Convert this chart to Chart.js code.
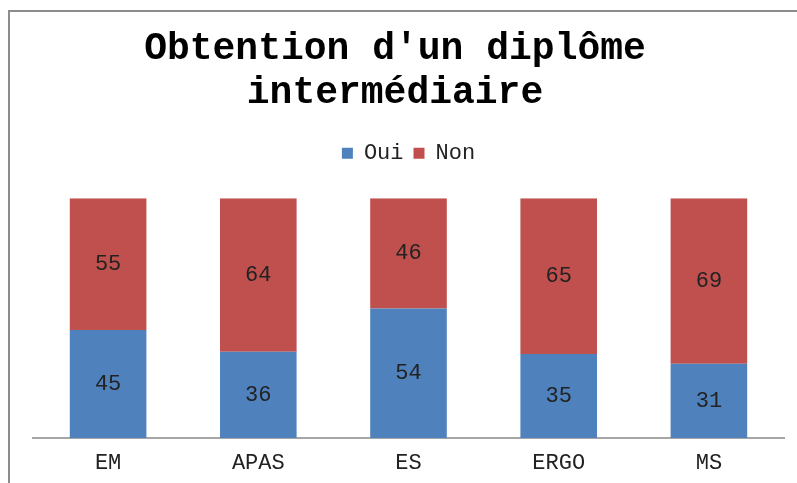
<!DOCTYPE html>
<html lang="fr">
<head>
  <meta charset="UTF-8">
  <title>Obtention d'un diplôme intermédiaire</title>
  <script src="https://cdn.jsdelivr.net/npm/chart.js"></script>
  <style>
    html, body { margin: 0; padding: 0; background: #fff; overflow: hidden; }
    #wrap { position: relative; width: 797px; height: 483px; }
    #frame {
      position: absolute; left: 8px; top: 10px; width: 1000px; height: 1000px;
      border-top: 2px solid #8c8c8c; border-left: 2px solid #8c8c8c;
      pointer-events: none;
    }
  </style>
</head>
<body>
  <div id="wrap">
    <canvas id="chart" width="797" height="483"></canvas>
    <div id="frame"></div>
  </div>
  <script>
    const categories = ['EM', 'APAS', 'ES', 'ERGO', 'MS']
    const oui = [45, 36, 54, 35, 31]
    const non = [55, 64, 46, 65, 69]
    const mono = "'Liberation Mono', 'Courier New', monospace"

    // draws the value in the middle of each stacked segment
    const valueLabels = {
      id: 'valueLabels',
      afterDatasetsDraw(chart) {
        const ctx = chart.ctx
        ctx.save()
        ctx.font = '22px ' + mono
        ctx.fillStyle = '#222'
        ctx.textAlign = 'center'
        ctx.textBaseline = 'middle'
        chart.data.datasets.forEach((ds, i) => {
          chart.getDatasetMeta(i).data.forEach((bar, j) => {
            ctx.fillText(ds.data[j], bar.x, (bar.y + bar.base) / 2)
          })
        })
        ctx.restore()
      }
    }

    // extra room between legend and bars
    const legendGap = {
      id: 'legendGap',
      beforeInit(chart) {
        const fit = chart.legend.fit
        chart.legend.fit = function () {
          fit.call(this)
          this.height += 24
        }
      }
    }

    new Chart(document.getElementById('chart'), {
      type: 'bar',
      data: {
        labels: categories,
        datasets: [
          { label: 'Oui', data: oui, backgroundColor: '#4f81bd' },
          { label: 'Non', data: non, backgroundColor: '#c0504d' }
        ]
      },
      options: {
        responsive: false,
        animation: false,
        layout: { padding: { top: 10, left: 6, right: 13, bottom: 0 } },
        datasets: { bar: { categoryPercentage: 1, barPercentage: 0.51 } },
        plugins: {
          title: {
            display: true,
            text: ["Obtention d'un diplôme", 'intermédiaire'],
            font: { family: mono, size: 38, weight: 'bold', lineHeight: 1.16 },
            color: '#000',
            padding: { top: 17, bottom: 17 }
          },
          legend: {
            fullSize: false,
            labels: {
              font: { family: mono, size: 22 },
              color: '#222',
              boxWidth: 11,
              boxHeight: 11,
              padding: 10
            }
          },
          tooltip: { enabled: false }
        },
        scales: {
          x: {
            stacked: true,
            grid: { display: false, drawTicks: false },
            border: { color: '#a6a6a6', width: 2 },
            ticks: { font: { family: mono, size: 22 }, color: '#222', padding: 12 },
            afterFit(scale) { scale.height = 45 }
          },
          y: {
            stacked: true,
            min: 0,
            max: 100,
            grid: { display: false },
            border: { display: false },
            ticks: { display: false },
            afterFit(scale) { scale.width = 27 }
          }
        }
      },
      plugins: [valueLabels, legendGap]
    })
  </script>
</body>
</html>
